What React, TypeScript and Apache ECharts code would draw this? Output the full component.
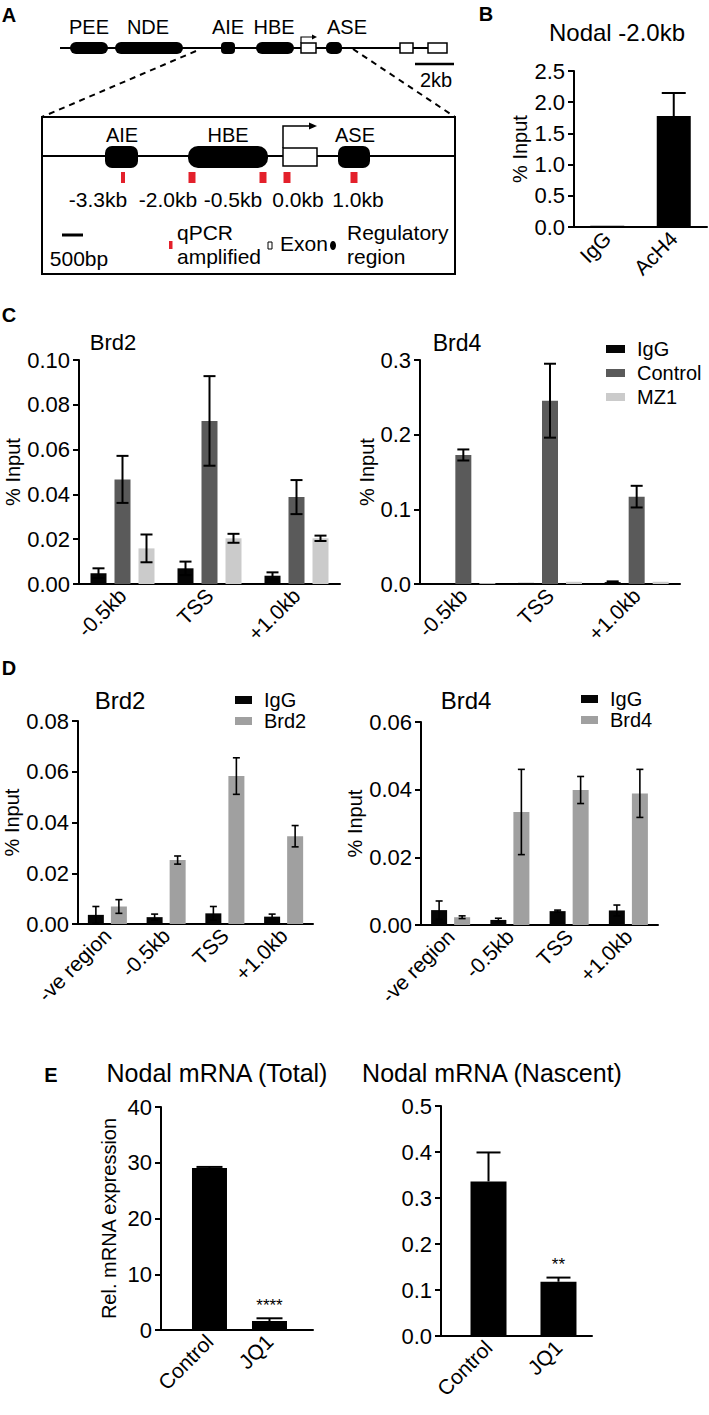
import React, { useEffect, useRef } from 'react';
import * as echarts from 'echarts';

const FONT = '"Liberation Sans", Arial, Helvetica, sans-serif';

// ---------- Panel B ----------
const bCategories = ['IgG', 'AcH4'];
const bValues = [0.02, 1.777];
const bErrors = [0, 0.37];

// ---------- Panel C ----------
const cCategories = ['-0.5kb', 'TSS', '+1.0kb'];
const cLegend = ['IgG', 'Control', 'MZ1'];
const cBrd2IgG = [0.0048, 0.007, 0.0037];
const cBrd2IgGErr = [0.0022, 0.003, 0.0015];
const cBrd2Control = [0.0467, 0.0728, 0.0388];
const cBrd2ControlErr = [0.0105, 0.02, 0.0076];
const cBrd2MZ1 = [0.0159, 0.0204, 0.0204];
const cBrd2MZ1Err = [0.0062, 0.002, 0.0012];
const cBrd4IgG = [0.001, 0.0015, 0.0025];
const cBrd4IgGErr = [0, 0, 0.001];
const cBrd4Control = [0.1728, 0.2455, 0.117];
const cBrd4ControlErr = [0.0074, 0.0495, 0.0145];
const cBrd4MZ1 = [0.0012, 0.003, 0.003];
const cBrd4MZ1Err = [0, 0, 0];

// ---------- Panel D ----------
const dCategories = ['-ve region', '-0.5kb', 'TSS', '+1.0kb'];
const dBrd2IgG = [0.0036, 0.0027, 0.0042, 0.0029];
const dBrd2IgGErr = [0.0033, 0.0012, 0.0027, 0.001];
const dBrd2 = [0.0069, 0.0252, 0.0583, 0.0346];
const dBrd2Err = [0.0027, 0.0016, 0.0072, 0.0042];
const dBrd4IgG = [0.0044, 0.0015, 0.0041, 0.0043];
const dBrd4IgGErr = [0.0027, 0.0005, 0.0003, 0.0016];
const dBrd4 = [0.0023, 0.0334, 0.0399, 0.0389];
const dBrd4Err = [0.0004, 0.0126, 0.004, 0.0071];

// ---------- Panel E ----------
const eCategories = ['Control', 'JQ1'];
const eTotal = [29.07, 1.6];
const eTotalErr = [0.18, 0.5];
const eTotalSig = ['', '****'];
const eNascent = [0.336, 0.118];
const eNascentErr = [0.063, 0.009];
const eNascentSig = ['', '**'];

const COLORS: Record<string, string> = {
  IgG: '#050505',
  Control: '#5a5a5a',
  MZ1: '#cbcbcb',
  Brd2: '#a0a0a0',
  Brd4: '#a0a0a0',
};
const RED = '#e3202b';

function yAxisCfg(gridIndex: number, max: number, interval: number, digits: number, name: string, nameGap: number) {
  return {
    type: 'value', gridIndex, min: 0, max, interval,
    name, nameLocation: 'middle', nameGap,
    nameTextStyle: { fontSize: 20, color: '#000', fontFamily: FONT },
    axisLine: { show: true, onZero: false, lineStyle: { color: '#000', width: 2 } },
    axisTick: { show: true, length: 6, lineStyle: { color: '#000', width: 2 } },
    axisLabel: { color: '#000', fontSize: 22, fontFamily: FONT, margin: 9, formatter: (v: number) => v.toFixed(digits) },
    splitLine: { show: false },
  };
}
function catAxisCfg(gridIndex: number, data: string[]) {
  return {
    type: 'category', gridIndex, data,
    axisLine: { lineStyle: { color: '#000', width: 2 } },
    axisTick: { show: false },
    axisLabel: { rotate: 45, color: '#000', fontSize: 21, fontFamily: FONT, margin: 8, interval: 0 },
  };
}
function valXAxisCfg(gridIndex: number, min: number, max: number, cats: string[]) {
  return {
    type: 'value', gridIndex, min, max,
    axisLine: { onZero: false, lineStyle: { color: '#000', width: 2 } },
    axisTick: { show: false },
    splitLine: { show: false },
    axisLabel: {
      customValues: cats.map((_, i) => i),
      formatter: (v: number) => cats[Math.round(v)] ?? '',
      rotate: 45, color: '#000', fontSize: 21, fontFamily: FONT, margin: 8,
    },
  };
}
function barSeries(name: string, axis: number, values: number[], barWidth: number, barGap: string) {
  return {
    type: 'bar', name, xAxisIndex: axis, yAxisIndex: axis,
    data: values, barWidth, barGap, silent: true,
    itemStyle: { color: COLORS[name] },
  };
}
function errSeries(id: string, axis: number, values: number[], errs: number[], offset: number, capHalf: number, both: boolean, lw: number) {
  return {
    type: 'custom', name: id, xAxisIndex: axis, yAxisIndex: axis, silent: true, z: 10,
    data: values.map((v, i) => [i, v, errs[i]]),
    renderItem: (params: any, api: any) => {
      const i = api.value(0), v = api.value(1), e = api.value(2);
      if (!e) return null;
      const top = api.coord([i, v + e]);
      const bot = api.coord([i, both ? v - e : v]);
      const x = top[0] + offset;
      const style = { stroke: '#000', lineWidth: lw };
      const children: any[] = [
        { type: 'line', shape: { x1: x, y1: top[1], x2: x, y2: bot[1] }, style },
        { type: 'line', shape: { x1: x - capHalf, y1: top[1], x2: x + capHalf, y2: top[1] }, style },
      ];
      if (both) children.push({ type: 'line', shape: { x1: x - capHalf, y1: bot[1], x2: x + capHalf, y2: bot[1] }, style });
      return { type: 'group', children };
    },
  };
}

function txt(text: string, x: number, y: number, size: number, align = 'center', weight = 'normal', fill = '#000') {
  return {
    type: 'text', x, y, silent: true,
    style: { text, fontSize: size, fontFamily: FONT, fontWeight: weight, fill, align, verticalAlign: 'middle', textAlign: align, textVerticalAlign: 'middle' },
  };
}
function pill(x: number, y: number, w: number, h: number, r?: number) {
  return { type: 'rect', shape: { x, y, width: w, height: h, r: r ?? Math.min(h / 2, w / 2) }, style: { fill: '#000' }, silent: true };
}
function box(x: number, y: number, w: number, h: number, lw = 1.5) {
  return { type: 'rect', shape: { x, y, width: w, height: h }, style: { fill: '#fff', stroke: '#000', lineWidth: lw }, silent: true };
}
function seg(x1: number, y1: number, x2: number, y2: number, lw = 2, dash?: number[]) {
  return { type: 'line', shape: { x1, y1, x2, y2 }, style: { stroke: '#000', lineWidth: lw, lineDash: dash }, silent: true };
}
function redMark(cx: number, w: number) {
  return { type: 'rect', shape: { x: cx - w / 2, y: 172, width: w, height: 11 }, style: { fill: RED }, silent: true };
}

// Panel A schematic texts
const topElements = ['PEE', 'NDE', 'AIE', 'HBE', 'ASE'];
const innerElements = ['AIE', 'HBE', 'ASE'];
const primerLabels = ['-3.3kb', '-2.0kb', '-0.5kb', '0.0kb', '1.0kb'];

function panelA() {
  const topX = [89, 148, 228, 274, 347];
  const innerX = [122, 228, 355];
  const primerX = [98, 168, 233, 298, 358];
  const els: any[] = [];
  els.push(seg(60, 48, 447, 48, 2));
  els.push(pill(70, 42, 38, 12), pill(115, 42, 68, 12), pill(221, 42, 14, 12, 4), pill(256, 42, 38, 12), pill(326, 42, 16, 12, 5));
  els.push(box(301, 43, 15, 10), box(400, 43, 13, 10), box(428, 43, 19, 10));
  els.push({ type: 'polyline', shape: { points: [[301, 43], [301, 37], [313, 37]] }, style: { stroke: '#000', lineWidth: 1.2, fill: null }, silent: true });
  els.push({ type: 'polygon', shape: { points: [[312, 34.5], [317, 37], [312, 39.5]] }, style: { fill: '#000' }, silent: true });
  topElements.forEach((t, i) => els.push(txt(t, topX[i], 27, 20)));
  els.push(seg(415, 64, 454, 64, 2.5));
  els.push(txt('2kb', 436, 80, 20));
  els.push(seg(196, 51, 42, 117, 2, [6, 5]), seg(353, 49, 455, 117, 2, [6, 5]));
  els.push({ type: 'rect', shape: { x: 42, y: 117, width: 413, height: 157 }, style: { fill: 'none', stroke: '#000', lineWidth: 2 }, silent: true });
  els.push(seg(42, 156, 455, 156, 2));
  els.push(pill(105, 146, 33, 22, 7), pill(188, 146, 80, 22, 10), pill(338, 146, 32, 22, 7));
  els.push(box(283, 148, 34, 18, 1.5));
  els.push({ type: 'polyline', shape: { points: [[283, 148], [283, 126], [310, 126]] }, style: { stroke: '#000', lineWidth: 1.5, fill: null }, silent: true });
  els.push({ type: 'polygon', shape: { points: [[309, 122.5], [317, 126], [309, 129.5]] }, style: { fill: '#000' }, silent: true });
  innerElements.forEach((t, i) => els.push(txt(t, innerX[i], 135, 20)));
  els.push(redMark(123, 4), redMark(192, 7), redMark(263, 7), redMark(287, 7), redMark(354, 7));
  primerLabels.forEach((t, i) => els.push(txt(t, primerX[i], 199, 21)));
  els.push(seg(62, 235, 83, 235, 3));
  els.push(txt('500bp', 79, 258, 21));
  els.push({ type: 'rect', shape: { x: 169, y: 241, width: 3.5, height: 8 }, style: { fill: RED }, silent: true });
  els.push(txt('qPCR', 177, 232, 21, 'left'), txt('amplified', 177, 256, 21, 'left'));
  els.push(box(268, 242, 4, 7, 1));
  els.push(txt('Exon', 280, 243, 21, 'left'));
  els.push({ type: 'ellipse', shape: { cx: 333, cy: 245.5, rx: 3, ry: 4.5 }, style: { fill: '#000' }, silent: true });
  els.push(txt('Regulatory', 347, 232, 21, 'left'), txt('region', 347, 256, 21, 'left'));
  return els;
}

function buildOption() {
  const grids = [
    { left: 574, top: 71, width: 133, height: 156 }, // B
    { left: 79, top: 360, width: 261, height: 224 }, // C left
    { left: 420, top: 360, width: 260, height: 224 }, // C right
    { left: 78, top: 721, width: 235, height: 203 }, // D left
    { left: 421, top: 722, width: 237, height: 203 }, // D right
    { left: 161, top: 1107, width: 152, height: 223 }, // E left
    { left: 441, top: 1106, width: 151, height: 230 }, // E right
  ];
  const xAxis = [
    catAxisCfg(0, bCategories),
    catAxisCfg(1, cCategories),
    catAxisCfg(2, cCategories),
    catAxisCfg(3, dCategories),
    catAxisCfg(4, dCategories),
    valXAxisCfg(5, -0.808, 1.725, eCategories),
    valXAxisCfg(6, -0.679, 1.479, eCategories),
  ];
  const yAxis = [
    yAxisCfg(0, 2.5, 0.5, 1, '% Input', 44),
    yAxisCfg(1, 0.1, 0.02, 2, '% Input', 51),
    yAxisCfg(2, 0.3, 0.1, 1, '% Input', 43),
    yAxisCfg(3, 0.08, 0.02, 2, '% Input', 53),
    yAxisCfg(4, 0.06, 0.02, 2, '% Input', 52),
    yAxisCfg(5, 40, 10, 0, 'Rel. mRNA expression', 42),
    yAxisCfg(6, 0.5, 0.1, 1, '', 40),
  ];

  const series: any[] = [];
  series.push({ type: 'bar', name: 'B', xAxisIndex: 0, yAxisIndex: 0, data: bValues, barWidth: 34, silent: true, itemStyle: { color: '#000' } });
  series.push(errSeries('errB', 0, bValues, bErrors, 0, 12, false, 2));
  const cSets = [
    [cBrd2IgG, cBrd2IgGErr, cBrd2Control, cBrd2ControlErr, cBrd2MZ1, cBrd2MZ1Err],
    [cBrd4IgG, cBrd4IgGErr, cBrd4Control, cBrd4ControlErr, cBrd4MZ1, cBrd4MZ1Err],
  ];
  cSets.forEach((set, k) => {
    const ax = 1 + k;
    cLegend.forEach((nm, j) => {
      series.push(barSeries(nm, ax, set[j * 2], 16, '50%'));
    });
    cLegend.forEach((nm, j) => {
      series.push(errSeries(`errC${k}${j}`, ax, set[j * 2], set[j * 2 + 1], (j - 1) * 24, 6, true, 2));
    });
  });
  series.push(barSeries('IgG', 3, dBrd2IgG, 16, '44%'), barSeries('Brd2', 3, dBrd2, 16, '44%'));
  series.push(errSeries('errD0', 3, dBrd2IgG, dBrd2IgGErr, -11.5, 3.5, true, 1.6), errSeries('errD1', 3, dBrd2, dBrd2Err, 11.5, 3.5, true, 1.6));
  series.push(barSeries('IgG', 4, dBrd4IgG, 16, '44%'), barSeries('Brd4', 4, dBrd4, 16, '44%'));
  series.push(errSeries('errD2', 4, dBrd4IgG, dBrd4IgGErr, -11.5, 3.5, true, 1.6), errSeries('errD3', 4, dBrd4, dBrd4Err, 11.5, 3.5, true, 1.6));
  series.push({
    type: 'bar', name: 'ETotal', xAxisIndex: 5, yAxisIndex: 5, data: eTotal.map((v, i) => [i, v]), barWidth: 35, silent: true,
    itemStyle: { color: '#000' },
    label: { show: true, position: 'top', distance: 7, formatter: (p: any) => eTotalSig[p.dataIndex], fontSize: 17, color: '#000', fontFamily: FONT },
  });
  series.push(errSeries('errE0', 5, eTotal, eTotalErr, 0, 13, false, 2));
  series.push({
    type: 'bar', name: 'ENascent', xAxisIndex: 6, yAxisIndex: 6, data: eNascent.map((v, i) => [i, v]), barWidth: 36, silent: true,
    itemStyle: { color: '#000' },
    label: { show: true, position: 'top', distance: 9, formatter: (p: any) => eNascentSig[p.dataIndex], fontSize: 17, color: '#000', fontFamily: FONT },
  });
  series.push(errSeries('errE1', 6, eNascent, eNascentErr, 0, 12, false, 2));

  const legendText = { fontSize: 20, color: '#000', fontFamily: FONT, lineHeight: 20, padding: [0, 0, 0, 7] };
  const legend = [
    { data: cLegend, orient: 'vertical', left: 606, top: 339, itemWidth: 19, itemHeight: 8, itemGap: 4, icon: 'rect', selectedMode: false, textStyle: legendText, padding: 0 },
    { data: ['IgG', 'Brd2'], orient: 'vertical', left: 235, top: 690, itemWidth: 17, itemHeight: 8, itemGap: 1, icon: 'rect', selectedMode: false, textStyle: legendText, padding: 0 },
    { data: ['IgG', 'Brd4'], orient: 'vertical', left: 581, top: 689, itemWidth: 17, itemHeight: 8, itemGap: 1, icon: 'rect', selectedMode: false, textStyle: legendText, padding: 0 },
  ];

  const graphic: any[] = [
    ...panelA(),
    txt('A', 9, 15, 20, 'center', 'bold'),
    txt('B', 486, 14, 20, 'center', 'bold'),
    txt('C', 9, 315, 20, 'center', 'bold'),
    txt('D', 9, 668, 20, 'center', 'bold'),
    txt('E', 51, 1075, 20, 'center', 'bold'),
    txt('Nodal -2.0kb', 617, 32, 24),
    txt('Brd2', 113, 342, 22),
    txt('Brd4', 457, 343, 23),
    txt('Brd2', 120, 700, 24),
    txt('Brd4', 466, 700, 24),
    txt('Nodal mRNA (Total)', 217, 1073, 25),
    txt('Nodal mRNA (Nascent)', 492, 1073, 25),
  ];

  return {
    animation: false,
    backgroundColor: '#fff',
    textStyle: { fontFamily: FONT },
    grid: grids,
    xAxis,
    yAxis,
    legend,
    series,
    graphic,
  };
}

export default function App() {
  const ref = useRef<HTMLDivElement>(null);
  useEffect(() => {
    if (!ref.current) return;
    const chart = echarts.init(ref.current, undefined, { renderer: 'svg' });
    chart.setOption(buildOption() as any);
    return () => chart.dispose();
  }, []);
  return <div ref={ref} style={{ position: 'absolute', left: 0, top: 0, width: 709, height: 1415, background: '#fff' }} />;
}
